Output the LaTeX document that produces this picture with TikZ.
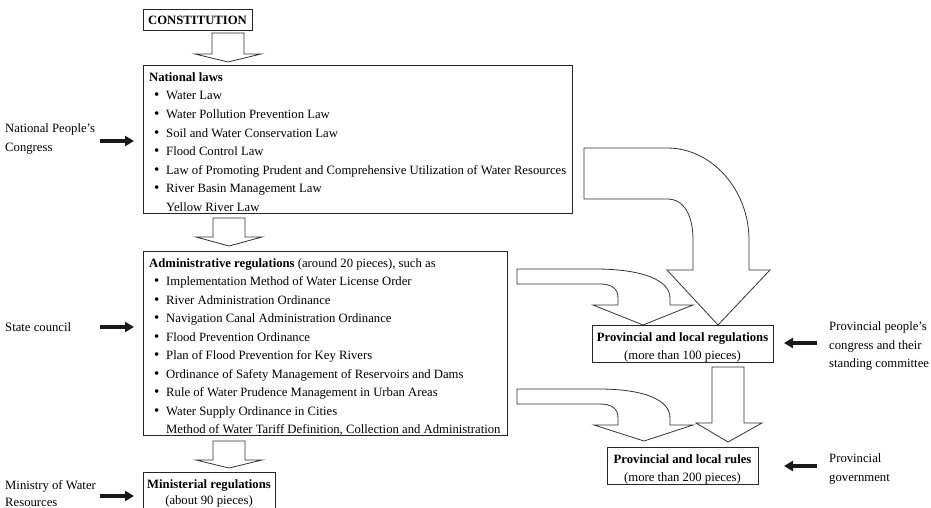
\documentclass[tikz,border=0pt]{standalone}
\usepackage{fontspec}
\setmainfont{Liberation Serif}
\usetikzlibrary{arrows.meta}

\tikzset{
  box/.style={draw=black!85, line width=0.9pt, inner sep=0pt, anchor=north west, fill=white},
  txt/.style={anchor=base west, inner sep=0pt},
  ctxt/.style={anchor=base, inner sep=0pt},
  dot/.style={anchor=base west, inner sep=0pt, font=\fontsize{15pt}{15pt}\selectfont},
  blk/.style={draw=black!80, line width=0.8pt, fill=white, line join=miter},
  push/.style={line width=3.6pt, black!90, -{Triangle[length=9pt,width=10pt]}},
}

% hollow downward block arrow: centre x, shaft top, head base, tip
\newcommand\downblock[4]{%
  \draw[blk] (#1-16,#2) -- (#1+16,#2) -- (#1+16,#3) -- (#1+33,#3) -- (#1,#4)
    -- (#1-33,#3) -- (#1-16,#3) -- cycle;}

\begin{document}
\begin{tikzpicture}[x=1pt, y=-1pt, font=\fontsize{12.7pt}{18.5pt}\selectfont]
\useasboundingbox (0,0) rectangle (931,508);

% ---------- left column of legal documents ----------
\node[box, minimum width=109pt, minimum height=21pt] (const) at (143,9) {};
\node[ctxt] (constT) at (197.5,24.5) {\textbf{CONSTITUTION}};

\downblock{228}{33}{54}{62}

\node[box, minimum width=429pt, minimum height=148pt] (natl) at (143,65) {};
\node[txt] (natlT) at (149,81.5) {\textbf{National laws}};
\foreach \t [count=\i] in {Water Law, Water Pollution Prevention Law,
    Soil and Water Conservation Law, Flood Control Law,
    Law of Promoting Prudent and Comprehensive Utilization of Water Resources,
    River Basin Management Law} {
  \node[dot] (natlb\i) at (154,81.5+18.5*\i) {\textbullet};
  \node[txt] (natl\i) at (166,81.5+18.5*\i) {\t};
}
\node[txt] (natl7) at (166,211) {Yellow River Law};

\downblock{229}{218}{237}{246}

\node[box, minimum width=364pt, minimum height=184pt] (admin) at (143,251) {};
\node[txt] (adminT) at (149,267.5) {\textbf{Administrative regulations} (around 20 pieces), such as};
\foreach \t [count=\i] in {Implementation Method of Water License Order,
    River Administration Ordinance, Navigation Canal Administration Ordinance,
    Flood Prevention Ordinance, Plan of Flood Prevention for Key Rivers,
    Ordinance of Safety Management of Reservoirs and Dams,
    Rule of Water Prudence Management in Urban Areas,
    Water Supply Ordinance in Cities} {
  \node[dot] (adminb\i) at (154,267+18.5*\i) {\textbullet};
  \node[txt] (admin\i) at (166,267+18.5*\i) {\t};
}
\node[txt] (admin9) at (166,433) {Method of Water Tariff Definition, Collection and Administration};

\downblock{229}{441}{460}{468}

\node[box, minimum width=132pt, minimum height=42pt] (minis) at (143,472) {};
\node[ctxt] (minisT) at (209,488) {\textbf{Ministerial regulations}};
\node[ctxt] (minisS) at (209,504) {(about 90 pieces)};

% ---------- issuing bodies on the left ----------
\node[txt] (npc1) at (5,132.5) {National People’s};
\node[txt] (npc2) at (5,151) {Congress};
\coordinate (npcA) at (100,141);
\coordinate (npcB) at (134,141);
\draw[push] (npcA) -- (npcB);

\node[txt] (sc) at (5,331.5) {State council};
\coordinate (scA) at (100,327);
\coordinate (scB) at (134,327);
\draw[push] (scA) -- (scB);

\node[txt] (mwr1) at (5,489) {Ministry of Water};
\node[txt] (mwr2) at (5,506) {Resources};
\coordinate (mwrA) at (100,496);
\coordinate (mwrB) at (134,496);
\draw[push] (mwrA) -- (mwrB);

% ---------- curved block arrows to the provincial level ----------
\draw[blk] (584,148) -- (667,148) .. controls (712,148) and (749,190) .. (749,240)
  -- (749,270) -- (770,270) -- (718,325) -- (667,270) -- (693,270) -- (693,240)
  .. controls (693,215) and (684,199) .. (667,199) -- (584,199) -- cycle;

\draw[blk] (517,269) -- (595,269) .. controls (642,269) and (670,280) .. (670,298)
  -- (670,305) -- (693,305) -- (643,325) -- (593,305) -- (618,305) -- (618,298)
  .. controls (618,289) and (612,284) .. (600,284) -- (517,284) -- cycle;

\draw[blk] (517,389) -- (598,389) .. controls (645,389) and (670,400) .. (670,418)
  -- (670,425) -- (693,425) -- (644,441) -- (594,425) -- (618,425) -- (618,418)
  .. controls (618,409) and (612,404) .. (600,404) -- (517,404) -- cycle;

% ---------- provincial documents ----------
\node[box, minimum width=181pt, minimum height=37pt] (preg) at (592,325) {};
\node[ctxt] (pregT) at (682.5,341.5) {\textbf{Provincial and local regulations}};
\node[ctxt] (pregS) at (682.5,359) {(more than 100 pieces)};

\draw[blk] (712,367) -- (744,367) -- (744,423) -- (762,423) -- (728,442)
  -- (696,423) -- (712,423) -- cycle;

\node[box, minimum width=151pt, minimum height=37pt] (prule) at (607,447) {};
\node[ctxt] (pruleT) at (682.5,463.5) {\textbf{Provincial and local rules}};
\node[ctxt] (pruleS) at (682.5,481) {(more than 200 pieces)};

% ---------- issuing bodies on the right ----------
\node[txt] (ppc1) at (829,330.5) {Provincial people’s};
\node[txt] (ppc2) at (829,349) {congress and their};
\node[txt] (ppc3) at (829,367.5) {standing committee};
\coordinate (ppcA) at (817,343);
\coordinate (ppcB) at (784,343);
\draw[push] (ppcA) -- (ppcB);

\node[txt] (pg1) at (829,462) {Provincial};
\node[txt] (pg2) at (829,481) {government};
\coordinate (pgA) at (817,466);
\coordinate (pgB) at (784,466);
\draw[push] (pgA) -- (pgB);
\end{tikzpicture}
\end{document}
